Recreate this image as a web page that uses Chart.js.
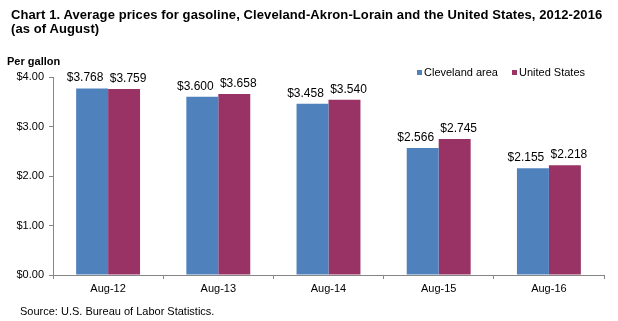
<!DOCTYPE html>
<html>
<head>
<meta charset="utf-8">
<script src="https://cdn.jsdelivr.net/npm/chart.js@4"></script>
<style>
  body { margin: 0; background: #fff; font-family: "Liberation Sans", Arial, sans-serif; }
  #wrap { position: relative; width: 618px; height: 321px; }
  #chart { position: absolute; left: 0; top: 0; }
  .txt { position: absolute; color: #000; white-space: nowrap; }
  .title { left: 11px; top: 8px; font-size: 13px; font-weight: bold; line-height: 14px; letter-spacing: 0.1px; }
  .unit { left: 7px; top: 55px; font-size: 11px; font-weight: bold; }
  .source { left: 20px; top: 305px; font-size: 11px; }
  .legend { top: 66px; font-size: 11px; }
  .swatch { position: absolute; width: 5px; height: 5px; top: 70px; }
</style>
</head>
<body>
<div id="wrap">
  <canvas id="chart" width="618" height="321"></canvas>
  <div class="txt title">Chart 1. Average prices for gasoline, Cleveland-Akron-Lorain and the United States, 2012-2016<br>(as of August)</div>
  <div class="txt unit">Per gallon</div>
  <div class="swatch" style="left:417px;background:#4F81BD"></div>
  <div class="txt legend" style="left:424px">Cleveland area</div>
  <div class="swatch" style="left:512px;background:#993366"></div>
  <div class="txt legend" style="left:519px">United States</div>
  <div class="txt source">Source: U.S. Bureau of Labor Statistics.</div>
</div>
<script>
// data
const labels = ['Aug-12', 'Aug-13', 'Aug-14', 'Aug-15', 'Aug-16'];
const cleveland = [3.768, 3.600, 3.458, 2.566, 2.155];
const unitedStates = [3.759, 3.658, 3.540, 2.745, 2.218];

Chart.defaults.font.family = '"Liberation Sans", Arial, sans-serif';
Chart.defaults.font.size = 11;
Chart.defaults.color = '#000000';

// value labels above each bar (excel nudges them apart a bit)
const labelShift = [-7, 4];
const valueLabels = {
  id: 'valueLabels',
  afterDatasetsDraw(chart) {
    const ctx = chart.ctx;
    ctx.save();
    ctx.font = '12px "Liberation Sans", Arial, sans-serif';
    ctx.fillStyle = '#000';
    ctx.textAlign = 'center';
    ctx.textBaseline = 'alphabetic';
    chart.data.datasets.forEach((ds, i) => {
      chart.getDatasetMeta(i).data.forEach((bar, j) => {
        ctx.fillText('$' + ds.data[j].toFixed(3), bar.x + labelShift[i], bar.y - 7);
      });
    });
    ctx.restore();
  }
};

new Chart(document.getElementById('chart'), {
  type: 'bar',
  data: {
    labels: labels,
    datasets: [
      { label: 'Cleveland area', data: cleveland, backgroundColor: '#4F81BD' },
      { label: 'United States', data: unitedStates, backgroundColor: '#993366' }
    ]
  },
  options: {
    responsive: false,
    animation: false,
    layout: { padding: { top: 77, left: 0, right: 14, bottom: 24 } },
    datasets: { bar: { categoryPercentage: 0.58, barPercentage: 1.0 } },
    plugins: {
      legend: { display: false },
      tooltip: { enabled: false }
    },
    scales: {
      x: {
        grid: { offset: true, drawOnChartArea: false, tickLength: 4, color: '#868686' },
        border: { color: '#868686' },
        ticks: { padding: 3 },
        afterFit(scale) { scale.height = 22; }
      },
      y: {
        min: 0,
        max: 4,
        ticks: { stepSize: 1, padding: 5, callback: (v) => '$' + v.toFixed(2) },
        grid: { drawOnChartArea: false, tickLength: 4, color: '#868686' },
        border: { color: '#868686' },
        afterFit(scale) { scale.width = 53; }
      }
    }
  },
  plugins: [valueLabels]
});
</script>
</body>
</html>
